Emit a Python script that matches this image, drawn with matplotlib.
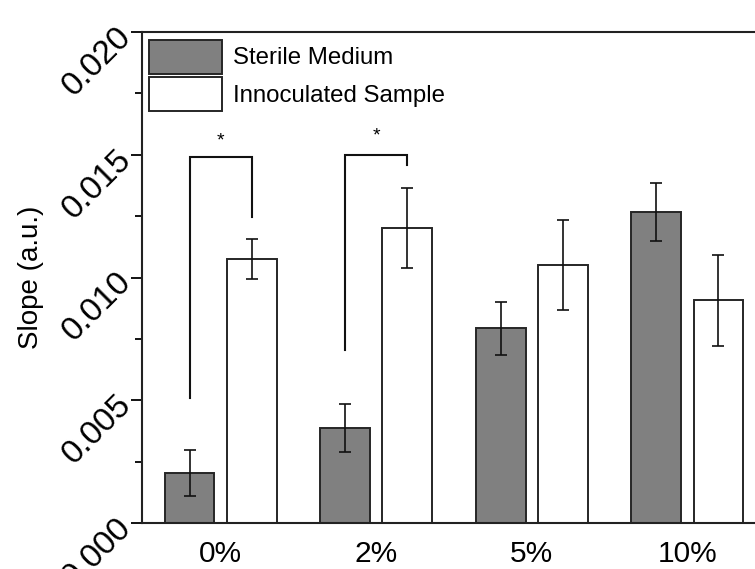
import numpy as np
import matplotlib
matplotlib.use("Agg")
import matplotlib.pyplot as plt

plt.rcParams['font.family'] = ['Liberation Sans', 'DejaVu Sans']

# data
groups = ['0%', '2%', '5%', '10%']
sterile = [0.00204, 0.00387, 0.00794, 0.01267]
sterile_err = [0.00092, 0.00096, 0.00108, 0.00118]
innoc = [0.01075, 0.01202, 0.01051, 0.00908]
innoc_err = [0.00080, 0.00163, 0.00183, 0.00185]

# significance brackets: (group index, left bottom, top, right bottom, star y)
brackets = [(0, 0.00509, 0.01491, 0.01246, 0.01556),
            (1, 0.00705, 0.01499, 0.01458, 0.01576)]

fig = plt.figure(figsize=(7.55, 5.69), dpi=100)
ax = fig.add_axes([142 / 755, 1 - 523 / 569, 624 / 755, 491 / 569])

x = np.arange(len(groups))
off = 0.2
w = 0.32
ec = '#262626'
err_kw = dict(ecolor='#111111', elinewidth=1.2, capsize=4.5, capthick=1.2)

ax.bar(x - off, sterile, w, yerr=sterile_err, color='#808080', edgecolor=ec,
       linewidth=1.4, label='Sterile Medium', error_kw=err_kw)
ax.bar(x + off, innoc, w, yerr=innoc_err, color='white', edgecolor=ec,
       linewidth=1.4, label='Innoculated Sample', error_kw=err_kw)

for g, yl, yt, yr, ys in brackets:
    ax.plot([g - off, g - off, g + off, g + off], [yl, yt, yt, yr],
            color='#111111', lw=1.5, solid_joinstyle='miter')
    ax.text(g, ys, '*', ha='center', va='center', fontsize=14)

ax.set_xlim(-0.506, 3.506)
ax.set_ylim(0, 0.020)
ax.set_xticks(x)
ax.set_xticklabels(groups, fontsize=21.5)
ax.tick_params(axis='x', length=0, pad=12)

ax.set_yticks(np.arange(0, 0.0201, 0.005))
ax.set_yticks(np.arange(0, 0.0201, 0.0025), minor=True)
ax.set_yticklabels(['%.3f' % v for v in np.arange(0, 0.0201, 0.005)],
                   fontsize=24, rotation=45, ha='right', va='center',
                   rotation_mode='anchor')
ax.tick_params(axis='y', which='major', direction='out', length=8, width=1.3, pad=3)
ax.tick_params(axis='y', which='minor', direction='out', length=5, width=1.3)

for s in ax.spines.values():
    s.set_linewidth(1.5)
    s.set_color('#222222')

ax.set_ylabel('Slope (a.u.)', fontsize=20)
ax.yaxis.set_label_coords(-0.157, 0.5)

ax.legend(loc='upper left', bbox_to_anchor=(0.011, 0.984), frameon=False,
          fontsize=17.3, handlelength=3.05, handleheight=1.78,
          labelspacing=0.16, handletextpad=0.47, borderpad=0, borderaxespad=0)

fig.savefig('out.png', dpi=100)
